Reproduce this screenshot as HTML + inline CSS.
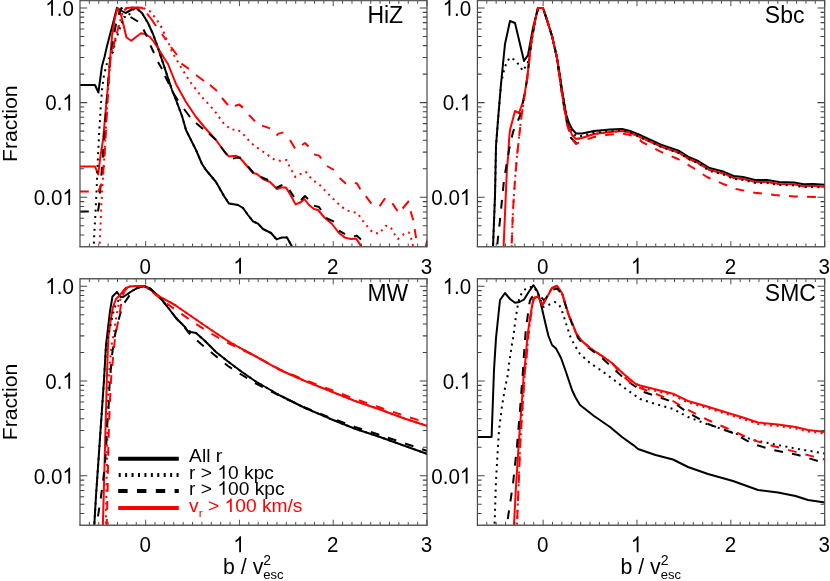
<!DOCTYPE html>
<html><head><meta charset="utf-8"><title>Fraction vs b / v_esc^2</title>
<style>html,body{margin:0;padding:0;background:#fff;}svg{display:block;will-change:transform;opacity:0.999;}text{font-family:"Liberation Sans",sans-serif;fill:#000;}</style></head><body>
<svg width="830" height="581" viewBox="0 0 830 581">
<rect x="0" y="0" width="830" height="581" fill="#fff"/>
<defs>
<clipPath id="cTL"><rect x="80.0" y="0.5" width="347.0" height="246.3"/></clipPath>
<clipPath id="cTR"><rect x="477.4" y="0.5" width="347.30000000000007" height="246.3"/></clipPath>
<clipPath id="cBL"><rect x="80.0" y="278.8" width="347.0" height="246.49999999999994"/></clipPath>
<clipPath id="cBR"><rect x="477.4" y="278.8" width="347.30000000000007" height="246.49999999999994"/></clipPath>
</defs>
<g clip-path="url(#cTL)" fill="none" stroke-width="2.0" stroke-linejoin="round">
<polyline stroke="#000" points="80,85 95,85 98.4,92.5 102,66 104.5,57 107,46 112,27 117,7.8 121,10.5 125.5,13 131,10 136,7.8 142,13 148,23 153,34 157,45 161,57 164,66 168,78 172,90 176,100 182,116 186,130 191,140 196,150 202,164 206,170 216,182 224,196 229,203.6 238,205 243,208 248,215 253,221.4 258,223.6 263,229 271,233 276.6,239.4 282,237.4 287,237.4 292,246.6 296,256"/>
<polyline stroke="#f00" points="80,166.4 95,166.4 98.2,174.5 100.5,156 103,140 105.5,113 108,85 110,60 112,36 114.5,20 117.5,8 121,15 124,27 126.5,37.5 131.3,40.8 136,37 141,33.3 145,34 150,37 154,42 158,48 164,58 168,64 176,84 186,102 196,117 206,129 216,140 224,151 229,156.6 236,155.8 240,158 247,166 253,173 257,174 263,179 270,182 277,189 282,187.4 286,187.6 290,194 295.6,204.4 301,202 304.4,199 309,205 314,209 318,210 324,217 332,224 339,233 345,237.6 351,239 356,238.4 361.4,246.6 365,254"/>
<polyline stroke="#000" stroke-dasharray="2 4.4" points="93.5,250 94.6,228 95.4,215 96,202 96.6,190 97.4,170 98,156 98.6,144 99.3,130 100,120 101,103 102,90 104,75 107,63 110,57 113,52 115.5,40 118,33.7 120,28 122,22 124,17 128,16.9 131,11 136,7.8 142,13 148,23 153,34 157,45 161,57 164,66 168,78 172,90 176,100 182,116 186,130 191,140 196,150 202,164 206,170 216,182 224,196 229,203.6 238,205 243,208 248,215 253,221.4 258,223.6 263,229 271,233 276.6,239.4 282,237.4 287,237.4 292,246.6 296,256"/>
<polyline stroke="#f00" stroke-dasharray="2 4.4" points="99.3,250 99.6,246.6 100.4,228 101,215 101.4,204 102,194 102.6,183 103.5,170 104.5,155 106,125 108,90 110.5,58 115,40 119,25 122.5,13 126.5,8 134,7.5 142,7.8 149,10 153,15 157,20 160.5,25.5 164,33 166.5,39 169.5,45 172,52 182,69 191,83 201,96 214,110 224,124 232,130 236,129 241,132 246,137 250,142 255,146 260,149.6 265,153 270,156.6 275,160 280,160.8 286.5,160 289.5,166.5 292,171 295.4,177 300,174.2 305.8,171.8 310,177 314,181 318.5,183.7 323.5,189 328,193.6 332,197.6 340,205.5 346.5,210.4 352,211.8 357.5,213 361.5,219 367.5,226.7 372.7,232.5 379,233.6 385.8,225.8 390.5,227 394.4,234 398,239 404,234 409,232.4 411,238 412.6,244 414,252"/>
<polyline stroke="#000" stroke-dasharray="8.8 9.2" points="80,211.4 98,211.4 99,205 101,180 103,155 105,125 107,98 109,72 111,52 113.5,38 116,24 119,14 121.5,8 125,13"/>
<path stroke="#000" d="M130.5,17L138,21.5M143.5,29.5L147,36.5M150.5,45.5L154,53M158,62L162,69M165,76L169,84M173,92.5L178,100.5M184,109L190,117M196,123L203,129M209,133.6L216,140M221,147L227,155M233,158.6L237,157.6L241,157.8M248,166.4L253.6,173M261,177L268,180M276,188L282.4,184.8M289.5,190L294,197M301,200L305,196L308,199M314,205.6L319,207L321,210M326,218L334,221.6M339,230.6L345,234.2M354,236.4L356.6,235.6L361,239.4"/>
<polyline stroke="#f00" stroke-dasharray="8.8 9.2" points="80,191.4 98.5,191.4 101.5,184 103,174 104,163 105,148 106.5,120 108.5,85 110.5,58 115,40 119,25"/>
<path stroke="#f00" d="M124.3,10.5L126.5,8L134,7.5L142,7.8L143.5,9M147,13.5L152,20L156,26M162,34L166,40M171,47L177,55M181.5,63.6L189,69M196,75L204,81M210,85L217,91M222,98L228,105M235,106L239,104.4L243,107.6M249,115L255,121.4M262,125.6L270,128.4M276.5,135.5L278.5,133.6L283.5,132.4M290,140L295,148.4M302,145L305,143L308.5,146.5M314,154.4L319,155.6L321.3,158.4M327,166L334,170M339.6,178L346,183.8M354.8,183.1L357,183.6L360.3,189.3M365.8,196.2L371.3,203.7M379.6,206.1L385.1,198.2M392.4,203.4L397.5,211M402.6,208.5L408.9,201M410.6,211.3L413.3,220.2M414.7,229.2L416.1,238.1M425.7,246.4L427.2,241L428,238"/>
</g>
<path d="M89.38,246.8v-3.3M89.38,0.5v3.3M98.76,246.8v-3.3M98.76,0.5v3.3M108.14,246.8v-3.3M108.14,0.5v3.3M117.51,246.8v-3.3M117.51,0.5v3.3M126.89,246.8v-3.3M126.89,0.5v3.3M136.27,246.8v-3.3M136.27,0.5v3.3M145.65,246.8v-5.6M145.65,0.5v5.6M155.03,246.8v-3.3M155.03,0.5v3.3M164.41,246.8v-3.3M164.41,0.5v3.3M173.78,246.8v-3.3M173.78,0.5v3.3M183.16,246.8v-3.3M183.16,0.5v3.3M192.54,246.8v-3.3M192.54,0.5v3.3M201.92,246.8v-3.3M201.92,0.5v3.3M211.30,246.8v-3.3M211.30,0.5v3.3M220.68,246.8v-3.3M220.68,0.5v3.3M230.05,246.8v-3.3M230.05,0.5v3.3M239.43,246.8v-5.6M239.43,0.5v5.6M248.81,246.8v-3.3M248.81,0.5v3.3M258.19,246.8v-3.3M258.19,0.5v3.3M267.57,246.8v-3.3M267.57,0.5v3.3M276.95,246.8v-3.3M276.95,0.5v3.3M286.32,246.8v-3.3M286.32,0.5v3.3M295.70,246.8v-3.3M295.70,0.5v3.3M305.08,246.8v-3.3M305.08,0.5v3.3M314.46,246.8v-3.3M314.46,0.5v3.3M323.84,246.8v-3.3M323.84,0.5v3.3M333.22,246.8v-5.6M333.22,0.5v5.6M342.59,246.8v-3.3M342.59,0.5v3.3M351.97,246.8v-3.3M351.97,0.5v3.3M361.35,246.8v-3.3M361.35,0.5v3.3M370.73,246.8v-3.3M370.73,0.5v3.3M380.11,246.8v-3.3M380.11,0.5v3.3M389.49,246.8v-3.3M389.49,0.5v3.3M398.86,246.8v-3.3M398.86,0.5v3.3M408.24,246.8v-3.3M408.24,0.5v3.3M417.62,246.8v-3.3M417.62,0.5v3.3M427.00,246.8v-5.6M427.00,0.5v5.6" stroke="#222" stroke-width="0.8" fill="none"/>
<path d="M80.0,234.97h4.2M427.0,234.97h-4.2M80.0,225.80h4.2M427.0,225.80h-4.2M80.0,218.31h4.2M427.0,218.31h-4.2M80.0,211.97h4.2M427.0,211.97h-4.2M80.0,206.48h4.2M427.0,206.48h-4.2M80.0,201.64h4.2M427.0,201.64h-4.2M80.0,197.31h7.2M427.0,197.31h-7.2M80.0,168.81h4.2M427.0,168.81h-4.2M80.0,152.14h4.2M427.0,152.14h-4.2M80.0,140.32h4.2M427.0,140.32h-4.2M80.0,131.14h4.2M427.0,131.14h-4.2M80.0,123.65h4.2M427.0,123.65h-4.2M80.0,117.31h4.2M427.0,117.31h-4.2M80.0,111.82h4.2M427.0,111.82h-4.2M80.0,106.98h4.2M427.0,106.98h-4.2M80.0,102.65h7.2M427.0,102.65h-7.2M80.0,74.16h4.2M427.0,74.16h-4.2M80.0,57.49h4.2M427.0,57.49h-4.2M80.0,45.66h4.2M427.0,45.66h-4.2M80.0,36.49h4.2M427.0,36.49h-4.2M80.0,28.99h4.2M427.0,28.99h-4.2M80.0,22.66h4.2M427.0,22.66h-4.2M80.0,17.17h4.2M427.0,17.17h-4.2M80.0,12.33h4.2M427.0,12.33h-4.2M80.0,7.99h7.2M427.0,7.99h-7.2" stroke="#444" stroke-width="1.1" fill="none"/>
<path d="M79.4,0.5H427.6M79.4,246.8H427.6" stroke="#5c5c5c" stroke-width="1.45" fill="none"/>
<path d="M80.0,0.5V246.8M427.0,0.5V246.8" stroke="#444" stroke-width="1.15" fill="none"/>
<g clip-path="url(#cTR)" fill="none" stroke-width="2.0" stroke-linejoin="round">
<polyline stroke="#000" points="492.5,260 493,247 495,196 496,146 498,120 501,84 505,44 510,21 515,23 524,61 528,55 533,28 538,8 543,8 547,20 552,36 557,58 560,76 562,90 566,114 569,123 572,129 576,133.4 582,133.6 594,131 610,129.6 622,129 630,131 640,135 642,136 661,144.6 679.4,151 688,156.6 697.5,160.7 709.5,168 724,171.8 733.6,176 743,177 755,180 767,180 779,182 794,182.4 803.5,184.3 813,183.9 825,184.8"/>
<polyline stroke="#f00" points="503.2,260 503.6,247 506,190 507,168 508.4,154 509,140 510,130 515,111 519,113 523.6,100 527,80 531,44 534,26 538,8 543,8 547,20 552,36 557,58 560,80 563.5,103 567,122 572,135 576,139 582,138 594,134 610,132 622,131 630,132.6 640,137 642,137.9 661,146.5 679.4,152.9 688,158.5 697.5,162.6 709.5,169.9 724,173.7 733.6,177.9 743,178.9 755,181.9 767,181.9 779,183.9 794,184.3 803.5,186.2 813,185.8 825,186.7"/>
<polyline stroke="#000" stroke-dasharray="2 4.4" stroke-dashoffset="3.77" points="492.5,260 493,247 495,196 496,146 498,120 501,84 503.3,73 506,64 509.6,57.6 515,60 519,65 523,71 528,62 531,44 534,26 538,8 543,8 547,20 552,36 557,58 562,91 566.5,117 572,132 576,136 582,136 594,132.7 610,131 622,130.2 630,132.6 640,137 642,138.2 661,146.8 679.4,153.2 688,158.8 697.5,162.9 709.5,170.9 724,174.7 733.6,178.9 743,179.9 755,182.9 767,182.9 779,184.9 794,185.3 803.5,187.2 813,186.8 825,187.7"/>
<polyline stroke="#f00" stroke-dasharray="2 4.4" points="511.3,260 511.6,247 513,210 515,180 517,156 519,138 521,120 523,106 527,80 531,44 534,26 538,8 543,8 543,8 547,20 552,36 557,58 560,80 563.5,103 567,122 572,135 576,139 582,138 594,134 610,132 622,131 630,132.6 640,137 642,137.9 661,146.5 679.4,152.9 688,158.5 697.5,162.6 709.5,169.9 724,173.7 733.6,177.9 743,178.9 755,181.9 767,181.9 779,183.9 794,184.3 803.5,186.2 813,185.8 825,186.7"/>
<polyline stroke="#000" stroke-dasharray="8.8 9.2" stroke-dashoffset="2.43" points="496,260 497,247 500,220 504,180 506,168 509,150 513,132 520,116 523,102 527,80 531,44 534,26 538,8 543,8 547,20 552,36 557,58 560,80 563.5,103 567,123 571,138 577,143.6"/>
<polyline stroke="#f00" stroke-dasharray="8.8 9.2" stroke-dashoffset="1.48" points="511.3,260 511.6,247 513,210 515,180 517,156 519,138 521,120 523,106 527,80 531,44 534,26 538,8 543,8 547,20 552,36 557,58 560,80 563.5,104 567,124 571,138 576,144 582,141 594,137 610,134.4 622,133.6 630,135 640,140 642,142 661,151.8 678,159 692.6,167.5 707,177 724,184.3 736,189 755,192.8 774.6,195 794,196.4 815.5,196.9 825,197"/>
</g>
<path d="M486.79,246.8v-3.3M486.79,0.5v3.3M496.17,246.8v-3.3M496.17,0.5v3.3M505.56,246.8v-3.3M505.56,0.5v3.3M514.95,246.8v-3.3M514.95,0.5v3.3M524.33,246.8v-3.3M524.33,0.5v3.3M533.72,246.8v-3.3M533.72,0.5v3.3M543.11,246.8v-5.6M543.11,0.5v5.6M552.49,246.8v-3.3M552.49,0.5v3.3M561.88,246.8v-3.3M561.88,0.5v3.3M571.26,246.8v-3.3M571.26,0.5v3.3M580.65,246.8v-3.3M580.65,0.5v3.3M590.04,246.8v-3.3M590.04,0.5v3.3M599.42,246.8v-3.3M599.42,0.5v3.3M608.81,246.8v-3.3M608.81,0.5v3.3M618.20,246.8v-3.3M618.20,0.5v3.3M627.58,246.8v-3.3M627.58,0.5v3.3M636.97,246.8v-5.6M636.97,0.5v5.6M646.36,246.8v-3.3M646.36,0.5v3.3M655.74,246.8v-3.3M655.74,0.5v3.3M665.13,246.8v-3.3M665.13,0.5v3.3M674.52,246.8v-3.3M674.52,0.5v3.3M683.90,246.8v-3.3M683.90,0.5v3.3M693.29,246.8v-3.3M693.29,0.5v3.3M702.68,246.8v-3.3M702.68,0.5v3.3M712.06,246.8v-3.3M712.06,0.5v3.3M721.45,246.8v-3.3M721.45,0.5v3.3M730.84,246.8v-5.6M730.84,0.5v5.6M740.22,246.8v-3.3M740.22,0.5v3.3M749.61,246.8v-3.3M749.61,0.5v3.3M758.99,246.8v-3.3M758.99,0.5v3.3M768.38,246.8v-3.3M768.38,0.5v3.3M777.77,246.8v-3.3M777.77,0.5v3.3M787.15,246.8v-3.3M787.15,0.5v3.3M796.54,246.8v-3.3M796.54,0.5v3.3M805.93,246.8v-3.3M805.93,0.5v3.3M815.31,246.8v-3.3M815.31,0.5v3.3M824.70,246.8v-5.6M824.70,0.5v5.6" stroke="#222" stroke-width="0.8" fill="none"/>
<path d="M477.4,234.97h4.2M824.7,234.97h-4.2M477.4,225.80h4.2M824.7,225.80h-4.2M477.4,218.31h4.2M824.7,218.31h-4.2M477.4,211.97h4.2M824.7,211.97h-4.2M477.4,206.48h4.2M824.7,206.48h-4.2M477.4,201.64h4.2M824.7,201.64h-4.2M477.4,197.31h7.2M824.7,197.31h-7.2M477.4,168.81h4.2M824.7,168.81h-4.2M477.4,152.14h4.2M824.7,152.14h-4.2M477.4,140.32h4.2M824.7,140.32h-4.2M477.4,131.14h4.2M824.7,131.14h-4.2M477.4,123.65h4.2M824.7,123.65h-4.2M477.4,117.31h4.2M824.7,117.31h-4.2M477.4,111.82h4.2M824.7,111.82h-4.2M477.4,106.98h4.2M824.7,106.98h-4.2M477.4,102.65h7.2M824.7,102.65h-7.2M477.4,74.16h4.2M824.7,74.16h-4.2M477.4,57.49h4.2M824.7,57.49h-4.2M477.4,45.66h4.2M824.7,45.66h-4.2M477.4,36.49h4.2M824.7,36.49h-4.2M477.4,28.99h4.2M824.7,28.99h-4.2M477.4,22.66h4.2M824.7,22.66h-4.2M477.4,17.17h4.2M824.7,17.17h-4.2M477.4,12.33h4.2M824.7,12.33h-4.2M477.4,7.99h7.2M824.7,7.99h-7.2" stroke="#444" stroke-width="1.1" fill="none"/>
<path d="M476.79999999999995,0.5H825.3000000000001M476.79999999999995,246.8H825.3000000000001" stroke="#5c5c5c" stroke-width="1.45" fill="none"/>
<path d="M477.4,0.5V246.8M824.7,0.5V246.8" stroke="#444" stroke-width="1.15" fill="none"/>
<g clip-path="url(#cBL)" fill="none" stroke-width="2.0" stroke-linejoin="round">
<polyline stroke="#000" points="94,530 96,496 100,438 104,380 106,345 108,328 110,311 112.5,296.5 117,292 120.5,297 124,296.5 132,291 138,287.5 144,286 150,288.5 156,294 162,300 168,307.5 176,318 184,326 188,331 191,332 196,333 204,340 216,352 228,361.5 242,372 255,381 280,395.5 305,408 330,418.7 355,428.7 380,437 405,446 427.5,454"/>
<polyline stroke="#f00" points="102.7,530 102.9,524 103.7,496 105.2,440 106.3,400 106.8,380 107.8,350 108.5,336 111,318 113,307 116,299 120,295 123,291 126,288 130,286.4 136,286 144,286.2 150,289.5 156,294 162,298 168,301.2 175,305 180,308.5 196,319.5 212,330.5 228,341 242,349 255,356 280,370 305,381 330,391 355,401 380,409.5 405,418.7 427.5,426"/>
<polyline stroke="#000" stroke-dasharray="2 4.4" points="94,530 96,496 100,438 104,380 106,346 108,336 109.5,330 111.5,321 112.5,316 114,310 116,304 119.5,299 122,297 124,296.5 132,291 138,287.5 144,286 150,288.5 156,294 162,300 168,307.5 176,318 184,326 188,331 191,332 196,333 204,340 216,352 228,361.5 242,372 255,381 280,395.5 305,408 330,418.7 355,428.7 380,437 405,446 427.5,454"/>
<polyline stroke="#f00" stroke-dasharray="2 4.4" points="105.6,530 105.8,524 106.3,496 107.5,430 108.3,384 110,362 112,342 113.5,336 115.5,322 116.5,316 117.5,310 119,303 120.5,299 123,292 126,288 123,291 126,288 130,286.4 136,286 144,286.2 150,289.5 156,294 162,298 168,301.2 175,305 180,308.5 196,319.5 212,330.5 228,341 242,349 255,356 280,370 305,381 330,391 355,401 380,409.5 405,418.7 427.5,426"/>
<polyline stroke="#000" stroke-dasharray="8.8 9.2" stroke-dashoffset="3.41" points="93,530 95,524 98,516.3 100.7,498.4 103,481.7 105,463.8 106.3,444.7 107,427 108.5,409 109.5,386 112,355 115,335 118,322 121,311 125,302 130.5,294 137,288 144,286"/>
<polyline stroke="#000" stroke-dasharray="8.8 9.2" stroke-dashoffset="13.14" points="144,286 150,288.5 156,294 162,300 168,307.5 176,318 184,326.5 188,332 191,335 201,344 212,353 228,366 242,375 255,383 280,396 305,407.5 330,417.5 355,427 380,435 405,443.5 427.5,451"/>
<polyline stroke="#f00" stroke-dasharray="8.8 9.2" stroke-dashoffset="15.80" points="106.5,530 106.7,524 107.4,500 108.5,440 109.6,409 111,380 113,358 115,338 117,327 119,318 120.5,308 121.5,301 124,292 127,288 130,286.4 136,286 144,286.2 150,290 156,295 166,303 180,313 196,324 212,334 228,343 242,349.6 255,356 280,369.5 305,380 330,389.5 355,399 380,407.5 405,416 427.5,423"/>
</g>
<path d="M89.38,525.3v-3.3M89.38,278.8v3.3M98.76,525.3v-3.3M98.76,278.8v3.3M108.14,525.3v-3.3M108.14,278.8v3.3M117.51,525.3v-3.3M117.51,278.8v3.3M126.89,525.3v-3.3M126.89,278.8v3.3M136.27,525.3v-3.3M136.27,278.8v3.3M145.65,525.3v-5.6M145.65,278.8v5.6M155.03,525.3v-3.3M155.03,278.8v3.3M164.41,525.3v-3.3M164.41,278.8v3.3M173.78,525.3v-3.3M173.78,278.8v3.3M183.16,525.3v-3.3M183.16,278.8v3.3M192.54,525.3v-3.3M192.54,278.8v3.3M201.92,525.3v-3.3M201.92,278.8v3.3M211.30,525.3v-3.3M211.30,278.8v3.3M220.68,525.3v-3.3M220.68,278.8v3.3M230.05,525.3v-3.3M230.05,278.8v3.3M239.43,525.3v-5.6M239.43,278.8v5.6M248.81,525.3v-3.3M248.81,278.8v3.3M258.19,525.3v-3.3M258.19,278.8v3.3M267.57,525.3v-3.3M267.57,278.8v3.3M276.95,525.3v-3.3M276.95,278.8v3.3M286.32,525.3v-3.3M286.32,278.8v3.3M295.70,525.3v-3.3M295.70,278.8v3.3M305.08,525.3v-3.3M305.08,278.8v3.3M314.46,525.3v-3.3M314.46,278.8v3.3M323.84,525.3v-3.3M323.84,278.8v3.3M333.22,525.3v-5.6M333.22,278.8v5.6M342.59,525.3v-3.3M342.59,278.8v3.3M351.97,525.3v-3.3M351.97,278.8v3.3M361.35,525.3v-3.3M361.35,278.8v3.3M370.73,525.3v-3.3M370.73,278.8v3.3M380.11,525.3v-3.3M380.11,278.8v3.3M389.49,525.3v-3.3M389.49,278.8v3.3M398.86,525.3v-3.3M398.86,278.8v3.3M408.24,525.3v-3.3M408.24,278.8v3.3M417.62,525.3v-3.3M417.62,278.8v3.3M427.00,525.3v-5.6M427.00,278.8v5.6" stroke="#222" stroke-width="0.8" fill="none"/>
<path d="M80.0,513.46h4.2M427.0,513.46h-4.2M80.0,504.28h4.2M427.0,504.28h-4.2M80.0,496.78h4.2M427.0,496.78h-4.2M80.0,490.44h4.2M427.0,490.44h-4.2M80.0,484.95h4.2M427.0,484.95h-4.2M80.0,480.10h4.2M427.0,480.10h-4.2M80.0,475.77h7.2M427.0,475.77h-7.2M80.0,447.25h4.2M427.0,447.25h-4.2M80.0,430.57h4.2M427.0,430.57h-4.2M80.0,418.73h4.2M427.0,418.73h-4.2M80.0,409.55h4.2M427.0,409.55h-4.2M80.0,402.05h4.2M427.0,402.05h-4.2M80.0,395.71h4.2M427.0,395.71h-4.2M80.0,390.21h4.2M427.0,390.21h-4.2M80.0,385.37h4.2M427.0,385.37h-4.2M80.0,381.03h7.2M427.0,381.03h-7.2M80.0,352.52h4.2M427.0,352.52h-4.2M80.0,335.83h4.2M427.0,335.83h-4.2M80.0,324.00h4.2M427.0,324.00h-4.2M80.0,314.82h4.2M427.0,314.82h-4.2M80.0,307.32h4.2M427.0,307.32h-4.2M80.0,300.98h4.2M427.0,300.98h-4.2M80.0,295.48h4.2M427.0,295.48h-4.2M80.0,290.64h4.2M427.0,290.64h-4.2M80.0,286.30h7.2M427.0,286.30h-7.2" stroke="#444" stroke-width="1.1" fill="none"/>
<path d="M79.4,278.8H427.6M79.4,525.3H427.6" stroke="#5c5c5c" stroke-width="1.45" fill="none"/>
<path d="M80.0,278.8V525.3M427.0,278.8V525.3" stroke="#444" stroke-width="1.15" fill="none"/>
<g clip-path="url(#cBR)" fill="none" stroke-width="2.0" stroke-linejoin="round">
<polyline stroke="#000" points="477.3,437 491.6,437 494,370 496,338 500,300 505,293 510,299 515,302.8 519.5,302 524,299.5 529,291.5 533.5,285.2 537.5,291.5 540,300 543,313 546,326 548.5,336 552,345 556,348.4 561,358 566,372 572,390 575.5,397.5 580,405 594,416 610,427 622,437 634,445.6 638,449 655.5,455 673,459.5 688,467 708,474 733,481 758,490 778,492.5 795.5,496 808,500 825,502.5"/>
<polyline stroke="#f00" points="513.7,531 514,525 516,486 519,440 522,400 524,370 525,364 527.5,336 530,318 532,306 533.5,298 538,296.5 542.5,305 547,297 552,288 557,285.8 562,293 565,303 569,316 573,325 576,333 582,341 590,348 602,356 612,363 622,372.5 632,381 635.5,383.7 640,385.5 653,388.7 673,393.7 688,401 705.5,406 728,413 743,417.5 758,422.5 778,424.5 795.5,427 808,430 825,432"/>
<polyline stroke="#000" stroke-dasharray="2 4.4" points="494.4,530 494.6,524 496,480 498.4,440 499,430 502,406 505,388 508,374 509,364 512,344 513.5,336 515,323 516,316.5 517,310 518,304 519.5,298 522,292.5 526.5,288 533.5,286.5 538,293 541,301 543.5,307 549.5,304.5 555,302 559.5,305.5 562,311 564,317 566,323.5 568,329.5 570,336 574,344 580,354 590,363 602,371 614,380 626,389 640,399 655.5,404 673,409 688,417 708,424.5 733,432.5 753,440 773,444 798,449 825,453.5"/>
<polyline stroke="#f00" stroke-dasharray="2 4.4" points="516.7,531 517,525 520.4,440 523,400 525,370 526,364 528.3,336 530.5,318 532.3,306 533.8,298.5 538,296.5 542.5,305 547,297 552,288 557,285.8 562,293 565,303 569,316 573,325 576,333 582,341 590,348 602,356 612,363 622,372.5 632,381 635.5,383.7 640,387 653,390.2 673,395.2 688,402.5 705.5,407.5 728,414.5 743,419 758,424 778,426 795.5,428.5 808,431.5 825,433.5"/>
<polyline stroke="#000" stroke-dasharray="8.8 9.2" stroke-dashoffset="5.95" points="506,531 507,524 513,484 517,446 520,410 523,370 524,354 526,327 527.5,318 528.5,308 530,300.5 532,297 534,296.5 538,296 541,296.5 543.5,300 545.5,299 547,296.5 552,290 557,288.5 562,294 564,300 567,310 570,318 572,324 576,333 578,338 582,343 590,349 602,358 614,369 626,380 636,387 638,390 655.5,396 673,402 685.5,411 708,424 733,433 753,444 773,450 798,455 818,461 825,463"/>
<polyline stroke="#f00" stroke-dasharray="8.8 9.2" stroke-dashoffset="5.92" points="516.7,531 517,525 520.4,440 523,400 525,370 526,364 528.3,336 530.5,318 532.3,306 533.8,298.5 538,296.5 542.5,305 547,297 552,288 557,285.8 562,293 565,303 569,316 573,325 576,333 582,341 590,348 602,356 612,363 623,376 633,385 648,391 670.5,399.5 685.5,408.7 708,420 733,431 753,440 773,446 798,452.5 825,459.5"/>
</g>
<path d="M486.79,525.3v-3.3M486.79,278.8v3.3M496.17,525.3v-3.3M496.17,278.8v3.3M505.56,525.3v-3.3M505.56,278.8v3.3M514.95,525.3v-3.3M514.95,278.8v3.3M524.33,525.3v-3.3M524.33,278.8v3.3M533.72,525.3v-3.3M533.72,278.8v3.3M543.11,525.3v-5.6M543.11,278.8v5.6M552.49,525.3v-3.3M552.49,278.8v3.3M561.88,525.3v-3.3M561.88,278.8v3.3M571.26,525.3v-3.3M571.26,278.8v3.3M580.65,525.3v-3.3M580.65,278.8v3.3M590.04,525.3v-3.3M590.04,278.8v3.3M599.42,525.3v-3.3M599.42,278.8v3.3M608.81,525.3v-3.3M608.81,278.8v3.3M618.20,525.3v-3.3M618.20,278.8v3.3M627.58,525.3v-3.3M627.58,278.8v3.3M636.97,525.3v-5.6M636.97,278.8v5.6M646.36,525.3v-3.3M646.36,278.8v3.3M655.74,525.3v-3.3M655.74,278.8v3.3M665.13,525.3v-3.3M665.13,278.8v3.3M674.52,525.3v-3.3M674.52,278.8v3.3M683.90,525.3v-3.3M683.90,278.8v3.3M693.29,525.3v-3.3M693.29,278.8v3.3M702.68,525.3v-3.3M702.68,278.8v3.3M712.06,525.3v-3.3M712.06,278.8v3.3M721.45,525.3v-3.3M721.45,278.8v3.3M730.84,525.3v-5.6M730.84,278.8v5.6M740.22,525.3v-3.3M740.22,278.8v3.3M749.61,525.3v-3.3M749.61,278.8v3.3M758.99,525.3v-3.3M758.99,278.8v3.3M768.38,525.3v-3.3M768.38,278.8v3.3M777.77,525.3v-3.3M777.77,278.8v3.3M787.15,525.3v-3.3M787.15,278.8v3.3M796.54,525.3v-3.3M796.54,278.8v3.3M805.93,525.3v-3.3M805.93,278.8v3.3M815.31,525.3v-3.3M815.31,278.8v3.3M824.70,525.3v-5.6M824.70,278.8v5.6" stroke="#222" stroke-width="0.8" fill="none"/>
<path d="M477.4,513.46h4.2M824.7,513.46h-4.2M477.4,504.28h4.2M824.7,504.28h-4.2M477.4,496.78h4.2M824.7,496.78h-4.2M477.4,490.44h4.2M824.7,490.44h-4.2M477.4,484.95h4.2M824.7,484.95h-4.2M477.4,480.10h4.2M824.7,480.10h-4.2M477.4,475.77h7.2M824.7,475.77h-7.2M477.4,447.25h4.2M824.7,447.25h-4.2M477.4,430.57h4.2M824.7,430.57h-4.2M477.4,418.73h4.2M824.7,418.73h-4.2M477.4,409.55h4.2M824.7,409.55h-4.2M477.4,402.05h4.2M824.7,402.05h-4.2M477.4,395.71h4.2M824.7,395.71h-4.2M477.4,390.21h4.2M824.7,390.21h-4.2M477.4,385.37h4.2M824.7,385.37h-4.2M477.4,381.03h7.2M824.7,381.03h-7.2M477.4,352.52h4.2M824.7,352.52h-4.2M477.4,335.83h4.2M824.7,335.83h-4.2M477.4,324.00h4.2M824.7,324.00h-4.2M477.4,314.82h4.2M824.7,314.82h-4.2M477.4,307.32h4.2M824.7,307.32h-4.2M477.4,300.98h4.2M824.7,300.98h-4.2M477.4,295.48h4.2M824.7,295.48h-4.2M477.4,290.64h4.2M824.7,290.64h-4.2M477.4,286.30h7.2M824.7,286.30h-7.2" stroke="#444" stroke-width="1.1" fill="none"/>
<path d="M476.79999999999995,278.8H825.3000000000001M476.79999999999995,525.3H825.3000000000001" stroke="#5c5c5c" stroke-width="1.45" fill="none"/>
<path d="M477.4,278.8V525.3M824.7,278.8V525.3" stroke="#444" stroke-width="1.15" fill="none"/>
<path transform="translate(45.27,15.7) scale(20.6,22.454)" d="M0.3726,0H0.2847V-0.5601Q0.2529,-0.5298 0.2014,-0.4995T0.1089,-0.4541V-0.5391Q0.1821,-0.5735 0.2368,-0.6226T0.3145,-0.7173H0.3726Z" fill="#000"/><text transform="translate(56.72,15.7) scale(1,1.09)" font-size="20.6">.0</text>
<text transform="translate(45.27,110.4) scale(1,1.09)" font-size="20.6">0.</text><path transform="translate(62.45,110.4) scale(20.6,22.454)" d="M0.3726,0H0.2847V-0.5601Q0.2529,-0.5298 0.2014,-0.4995T0.1089,-0.4541V-0.5391Q0.1821,-0.5735 0.2368,-0.6226T0.3145,-0.7173H0.3726Z" fill="#000"/>
<text transform="translate(33.81,205.0) scale(1,1.09)" font-size="20.6">0.0</text><path transform="translate(62.45,205.0) scale(20.6,22.454)" d="M0.3726,0H0.2847V-0.5601Q0.2529,-0.5298 0.2014,-0.4995T0.1089,-0.4541V-0.5391Q0.1821,-0.5735 0.2368,-0.6226T0.3145,-0.7173H0.3726Z" fill="#000"/>
<text transform="translate(139.52,273.8) scale(1,1.08)" font-size="20.6">0</text>
<path transform="translate(233.31,273.8) scale(20.6,22.248)" d="M0.3726,0H0.2847V-0.5601Q0.2529,-0.5298 0.2014,-0.4995T0.1089,-0.4541V-0.5391Q0.1821,-0.5735 0.2368,-0.6226T0.3145,-0.7173H0.3726Z" fill="#000"/>
<text transform="translate(327.09,273.8) scale(1,1.08)" font-size="20.6">2</text>
<text transform="translate(420.87,273.8) scale(1,1.08)" font-size="20.6">3</text>
<path transform="translate(442.67,15.7) scale(20.6,22.454)" d="M0.3726,0H0.2847V-0.5601Q0.2529,-0.5298 0.2014,-0.4995T0.1089,-0.4541V-0.5391Q0.1821,-0.5735 0.2368,-0.6226T0.3145,-0.7173H0.3726Z" fill="#000"/><text transform="translate(454.12,15.7) scale(1,1.09)" font-size="20.6">.0</text>
<text transform="translate(442.67,110.4) scale(1,1.09)" font-size="20.6">0.</text><path transform="translate(459.85,110.4) scale(20.6,22.454)" d="M0.3726,0H0.2847V-0.5601Q0.2529,-0.5298 0.2014,-0.4995T0.1089,-0.4541V-0.5391Q0.1821,-0.5735 0.2368,-0.6226T0.3145,-0.7173H0.3726Z" fill="#000"/>
<text transform="translate(431.21,205.0) scale(1,1.09)" font-size="20.6">0.0</text><path transform="translate(459.85,205.0) scale(20.6,22.454)" d="M0.3726,0H0.2847V-0.5601Q0.2529,-0.5298 0.2014,-0.4995T0.1089,-0.4541V-0.5391Q0.1821,-0.5735 0.2368,-0.6226T0.3145,-0.7173H0.3726Z" fill="#000"/>
<text transform="translate(536.98,273.8) scale(1,1.08)" font-size="20.6">0</text>
<path transform="translate(630.84,273.8) scale(20.6,22.248)" d="M0.3726,0H0.2847V-0.5601Q0.2529,-0.5298 0.2014,-0.4995T0.1089,-0.4541V-0.5391Q0.1821,-0.5735 0.2368,-0.6226T0.3145,-0.7173H0.3726Z" fill="#000"/>
<text transform="translate(724.71,273.8) scale(1,1.08)" font-size="20.6">2</text>
<text transform="translate(818.57,273.8) scale(1,1.08)" font-size="20.6">3</text>
<path transform="translate(45.27,294.0) scale(20.6,22.454)" d="M0.3726,0H0.2847V-0.5601Q0.2529,-0.5298 0.2014,-0.4995T0.1089,-0.4541V-0.5391Q0.1821,-0.5735 0.2368,-0.6226T0.3145,-0.7173H0.3726Z" fill="#000"/><text transform="translate(56.72,294.0) scale(1,1.09)" font-size="20.6">.0</text>
<text transform="translate(45.27,388.7) scale(1,1.09)" font-size="20.6">0.</text><path transform="translate(62.45,388.7) scale(20.6,22.454)" d="M0.3726,0H0.2847V-0.5601Q0.2529,-0.5298 0.2014,-0.4995T0.1089,-0.4541V-0.5391Q0.1821,-0.5735 0.2368,-0.6226T0.3145,-0.7173H0.3726Z" fill="#000"/>
<text transform="translate(33.81,483.5) scale(1,1.09)" font-size="20.6">0.0</text><path transform="translate(62.45,483.5) scale(20.6,22.454)" d="M0.3726,0H0.2847V-0.5601Q0.2529,-0.5298 0.2014,-0.4995T0.1089,-0.4541V-0.5391Q0.1821,-0.5735 0.2368,-0.6226T0.3145,-0.7173H0.3726Z" fill="#000"/>
<text transform="translate(139.52,552.3) scale(1,1.08)" font-size="20.6">0</text>
<path transform="translate(233.31,552.3) scale(20.6,22.248)" d="M0.3726,0H0.2847V-0.5601Q0.2529,-0.5298 0.2014,-0.4995T0.1089,-0.4541V-0.5391Q0.1821,-0.5735 0.2368,-0.6226T0.3145,-0.7173H0.3726Z" fill="#000"/>
<text transform="translate(327.09,552.3) scale(1,1.08)" font-size="20.6">2</text>
<text transform="translate(420.87,552.3) scale(1,1.08)" font-size="20.6">3</text>
<path transform="translate(442.67,294.0) scale(20.6,22.454)" d="M0.3726,0H0.2847V-0.5601Q0.2529,-0.5298 0.2014,-0.4995T0.1089,-0.4541V-0.5391Q0.1821,-0.5735 0.2368,-0.6226T0.3145,-0.7173H0.3726Z" fill="#000"/><text transform="translate(454.12,294.0) scale(1,1.09)" font-size="20.6">.0</text>
<text transform="translate(442.67,388.7) scale(1,1.09)" font-size="20.6">0.</text><path transform="translate(459.85,388.7) scale(20.6,22.454)" d="M0.3726,0H0.2847V-0.5601Q0.2529,-0.5298 0.2014,-0.4995T0.1089,-0.4541V-0.5391Q0.1821,-0.5735 0.2368,-0.6226T0.3145,-0.7173H0.3726Z" fill="#000"/>
<text transform="translate(431.21,483.5) scale(1,1.09)" font-size="20.6">0.0</text><path transform="translate(459.85,483.5) scale(20.6,22.454)" d="M0.3726,0H0.2847V-0.5601Q0.2529,-0.5298 0.2014,-0.4995T0.1089,-0.4541V-0.5391Q0.1821,-0.5735 0.2368,-0.6226T0.3145,-0.7173H0.3726Z" fill="#000"/>
<text transform="translate(536.98,552.3) scale(1,1.08)" font-size="20.6">0</text>
<path transform="translate(630.84,552.3) scale(20.6,22.248)" d="M0.3726,0H0.2847V-0.5601Q0.2529,-0.5298 0.2014,-0.4995T0.1089,-0.4541V-0.5391Q0.1821,-0.5735 0.2368,-0.6226T0.3145,-0.7173H0.3726Z" fill="#000"/>
<text transform="translate(724.71,552.3) scale(1,1.08)" font-size="20.6">2</text>
<text transform="translate(818.57,552.3) scale(1,1.08)" font-size="20.6">3</text>
<text transform="translate(367.4,22.5) scale(1,1.03)" font-size="23" text-anchor="start">HiZ</text>
<text transform="translate(764.8,22.5) scale(1,1.03)" font-size="23" text-anchor="start">Sbc</text>
<text transform="translate(367.4,300.8) scale(1,1.03)" font-size="23" text-anchor="start">MW</text>
<text transform="translate(764.8,300.8) scale(1,1.03)" font-size="23" text-anchor="start">SMC</text>
<text transform="translate(17,123.7) rotate(-90) scale(1.02,1)" font-size="20.8" text-anchor="middle">Fraction</text>
<text transform="translate(17,402.0) rotate(-90) scale(1.02,1)" font-size="20.8" text-anchor="middle">Fraction</text>
<text transform="translate(223.1,574.3) scale(1,1.0)" font-size="21.3" text-anchor="start">b / v<tspan font-size="14" dy="-9.3">2</tspan><tspan font-size="13" dx="-7.8" dy="14.1">esc</tspan></text>
<text transform="translate(620.5,574.3) scale(1,1.0)" font-size="21.3" text-anchor="start">b / v<tspan font-size="14" dy="-9.3">2</tspan><tspan font-size="13" dx="-7.8" dy="14.1">esc</tspan></text>
<g stroke-width="4" fill="none">
<path d="M118.2,458.7H178.8" stroke="#000"/>
<path d="M118.7,474.9H178.8" stroke="#000" stroke-dasharray="2 4.43"/>
<path d="M118.2,490.9H178.8" stroke="#000" stroke-dasharray="9.4 9.4"/>
<path d="M118.2,507.9H178.8" stroke="#f00"/>
</g>
<text transform="translate(189.1,462.4) scale(1,0.975)" font-size="19.2" text-anchor="start">All r</text>
<text transform="translate(189.1,478.8) scale(1,0.975)" font-size="19.2" text-anchor="start">r &gt; <tspan style="fill:none">1</tspan>0 kpc</text>
<path transform="translate(217.38,478.8) scale(19.2,18.720)" d="M0.3726,0H0.2847V-0.5601Q0.2529,-0.5298 0.2014,-0.4995T0.1089,-0.4541V-0.5391Q0.1821,-0.5735 0.2368,-0.6226T0.3145,-0.7173H0.3726Z" fill="#000"/>
<text transform="translate(189.1,494.8) scale(1,0.975)" font-size="19.2" text-anchor="start">r &gt; <tspan style="fill:none">1</tspan>00 kpc</text>
<path transform="translate(217.38,494.8) scale(19.2,18.720)" d="M0.3726,0H0.2847V-0.5601Q0.2529,-0.5298 0.2014,-0.4995T0.1089,-0.4541V-0.5391Q0.1821,-0.5735 0.2368,-0.6226T0.3145,-0.7173H0.3726Z" fill="#000"/>
<text transform="translate(189.1,512.0) scale(1,0.975)" font-size="19.2" text-anchor="start" style="fill:#f00">v<tspan font-size="12" dy="5">r</tspan><tspan dy="-5"> &gt; </tspan><tspan style="fill:none">1</tspan>00 km/s</text>
<path transform="translate(224.58,512.0) scale(19.2,18.720)" d="M0.3726,0H0.2847V-0.5601Q0.2529,-0.5298 0.2014,-0.4995T0.1089,-0.4541V-0.5391Q0.1821,-0.5735 0.2368,-0.6226T0.3145,-0.7173H0.3726Z" fill="#f00"/>
</svg></body></html>
